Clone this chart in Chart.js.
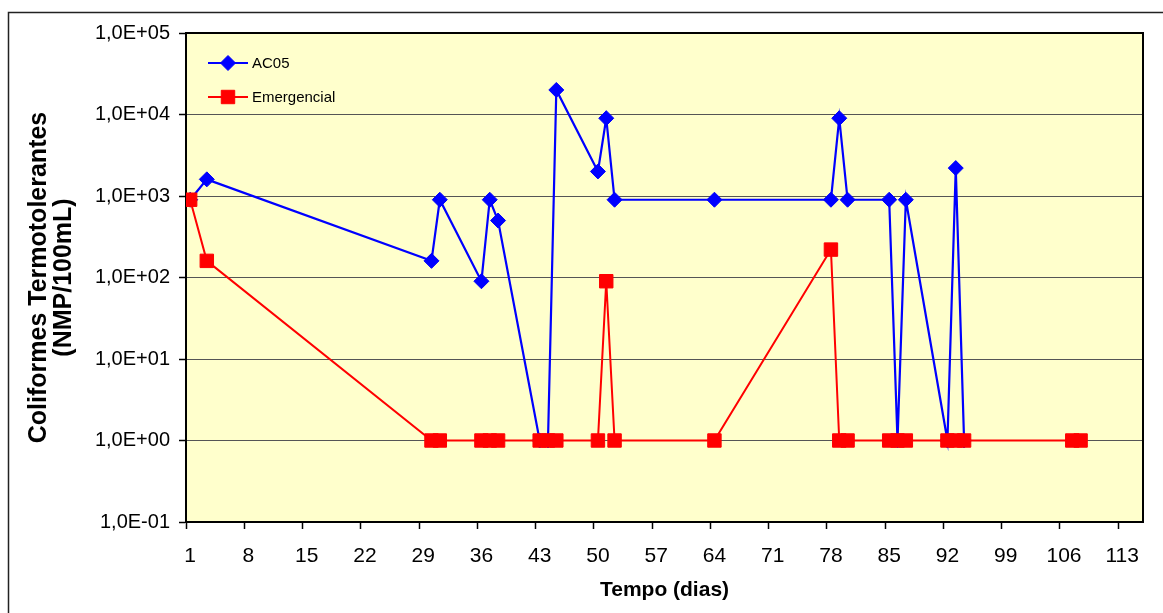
<!DOCTYPE html>
<html>
<head>
<meta charset="utf-8">
<script src="https://cdn.jsdelivr.net/npm/chart.js@4/dist/chart.umd.min.js"></script>
<style>
  html, body { margin: 0; padding: 0; background: #fff; }
  #wrap { width: 1163px; height: 613px; position: relative; }
</style>
</head>
<body>
<div id="wrap"><canvas id="chart" width="1163" height="613"></canvas></div>
<script>
// sampling days and results (NMP/100mL)
const days = [1, 3, 30, 31, 36, 37, 38, 43, 44, 45, 50, 51, 52, 64, 78, 79, 80, 85, 86, 87, 92, 93, 94, 107, 108];
const ac05 = [900, 1600, 160, 900, 90, 900, 500, 1, 1, 20000, 2000, 9000, 900, 900, 900, 9000, 900, 900, 1, 900, 1, 2200, 1, null, null];
const emergencial = [900, 160, 1, 1, 1, 1, 1, 1, 1, 1, 1, 90, 1, 1, 220, 1, 1, 1, 1, 1, 1, 1, 1, 1, 1];

const xTickLabels = [1, 8, 15, 22, 29, 36, 43, 50, 57, 64, 71, 78, 85, 92, 99, 106, 113];
const yTickValues = [0.1, 1, 10, 100, 1000, 10000, 100000];

const FONT = "'Liberation Sans', Arial, sans-serif";

function toPoints(values) {
  return days.map((d, i) => ({ x: d, y: values[i] }));
}

function sciLabel(v) {
  const exp = Math.round(Math.log10(v));
  const sign = exp < 0 ? '-' : '+';
  const digits = String(Math.abs(exp)).padStart(2, '0');
  return `1,0E${sign}${digits}`;
}

const frame = {
  id: 'frame',
  beforeDraw(chart) {
    const { ctx, chartArea: a } = chart;
    ctx.save();
    ctx.strokeStyle = '#222';
    ctx.lineWidth = 1.5;
    ctx.strokeRect(8.5, 12.5, chart.width + 20, chart.height + 20);
    ctx.fillStyle = '#FFFFCC';
    ctx.fillRect(a.left, a.top, a.right - a.left, a.bottom - a.top);
    ctx.restore();
  },
  afterDatasetsDraw(chart) {
    const { ctx, chartArea: a } = chart;
    ctx.save();
    ctx.strokeStyle = '#000';
    ctx.lineWidth = 2;
    ctx.beginPath();
    ctx.moveTo(a.left, a.top);
    ctx.lineTo(a.right, a.top);
    ctx.lineTo(a.right, a.bottom);
    ctx.stroke();
    ctx.restore();
  }
};

// legend inside plot, line through marker like the original
const innerLegend = {
  id: 'innerLegend',
  afterDraw(chart) {
    const { ctx, chartArea: a } = chart;
    const x0 = a.left + 22;
    const x1 = a.left + 62;
    const rows = [[1, a.top + 30], [0, a.top + 64]];
    ctx.save();
    rows.forEach(([idx, y]) => {
      const ds = chart.data.datasets[idx];
      ctx.strokeStyle = ds.borderColor;
      ctx.lineWidth = ds.borderWidth;
      ctx.beginPath();
      ctx.moveTo(x0, y);
      ctx.lineTo(x1, y);
      ctx.stroke();
      ctx.fillStyle = ds.pointBackgroundColor;
      ctx.strokeStyle = ds.pointBorderColor;
      ctx.lineWidth = 1;
      Chart.helpers.drawPoint(ctx, { pointStyle: ds.pointStyle, radius: ds.pointRadius, rotation: 0, borderWidth: 1 }, (x0 + x1) / 2, y);
      ctx.fillStyle = '#000';
      ctx.font = `15px ${FONT}`;
      ctx.textBaseline = 'middle';
      ctx.textAlign = 'left';
      ctx.fillText(ds.label, x1 + 4, y + 1);
    });
    ctx.restore();
  }
};

new Chart(document.getElementById('chart'), {
  type: 'line',
  data: {
    datasets: [
      {
        label: 'Emergencial',
        data: toPoints(emergencial),
        borderColor: '#FF0000',
        backgroundColor: '#FF0000',
        pointBackgroundColor: '#FF0000',
        pointBorderColor: '#FF0000',
        borderWidth: 2,
        pointStyle: 'rect',
        pointRadius: 9.5,
        pointBorderWidth: 1,
        order: 1
      },
      {
        label: 'AC05',
        data: toPoints(ac05),
        borderColor: '#0000FF',
        backgroundColor: '#0000FF',
        pointBackgroundColor: '#0000FF',
        pointBorderColor: '#0000FF',
        borderWidth: 2.2,
        pointStyle: 'rectRot',
        pointRadius: 7.5,
        pointBorderWidth: 1,
        order: 2
      }
    ]
  },
  options: {
    responsive: false,
    animation: false,
    events: [],
    layout: { padding: { top: 33, right: 20, left: 0, bottom: 0 } },
    plugins: {
      legend: { display: false },
      tooltip: { enabled: false }
    },
    elements: { line: { tension: 0 } },
    scales: {
      x: {
        type: 'linear',
        min: 0.5,
        max: 115.5,
        afterBuildTicks(axis) {
          axis.ticks = xTickLabels.map(v => ({ value: v - 0.5 }));
        },
        afterFit(axis) { axis.height = 91; },
        ticks: {
          autoSkip: false,
          maxRotation: 0,
          color: '#000',
          font: { family: FONT, size: 21 },
          padding: 15,
          labelOffset: 4.2,
          callback: v => String(v + 0.5)
        },
        grid: {
          drawOnChartArea: false,
          drawTicks: true,
          tickLength: 7,
          tickColor: '#000',
          tickWidth: 1.5
        },
        border: { color: '#000', width: 2 },
        title: {
          display: true,
          text: 'Tempo (dias)',
          color: '#000',
          font: { family: FONT, size: 21, weight: 'bold' },
          padding: { top: 0, bottom: 10 }
        }
      },
      y: {
        type: 'logarithmic',
        min: 0.1,
        max: 100000,
        afterBuildTicks(axis) {
          axis.ticks = yTickValues.map(v => ({ value: v, major: true }));
        },
        afterFit(axis) { axis.width = 186; },
        ticks: {
          color: '#000',
          font: { family: FONT, size: 20 },
          padding: 9,
          callback: v => sciLabel(v)
        },
        grid: {
          color: '#555',
          lineWidth: 1,
          tickLength: 7,
          tickColor: '#000',
          tickWidth: 1.5
        },
        border: { color: '#000', width: 2 },
        title: {
          display: true,
          text: ['Coliformes Termotolerantes', '(NMP/100mL)'],
          color: '#000',
          font: { family: FONT, size: 25, weight: 'bold', lineHeight: 1.0 },
          padding: { top: 27, bottom: 0 }
        }
      }
    }
  },
  plugins: [frame, innerLegend]
});
</script>
</body>
</html>
